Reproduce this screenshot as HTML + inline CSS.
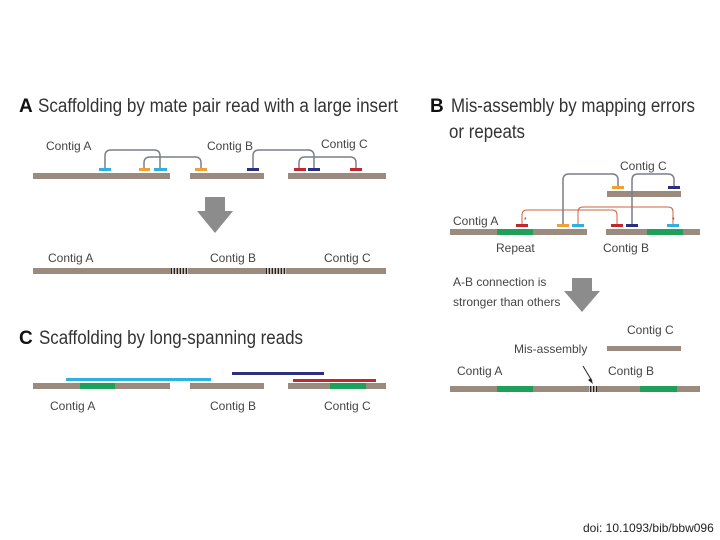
<!DOCTYPE html>
<html><head><meta charset="utf-8"><style>
html,body{margin:0;padding:0;background:#fff;width:720px;height:540px;overflow:hidden}
svg{display:block}
text{font-family:"Liberation Sans",sans-serif;fill:#444}
</style></head><body>
<svg width="720" height="540" viewBox="0 0 720 540" xmlns="http://www.w3.org/2000/svg">
<!-- Headings -->
<text x="19" y="112" font-size="19" font-weight="bold" style="fill:#111">A</text>
<text x="38" y="112" font-size="19" textLength="360" lengthAdjust="spacingAndGlyphs" style="fill:#333">Scaffolding by mate pair read with a large insert</text>
<text x="430" y="112" font-size="19" font-weight="bold" style="fill:#111">B</text>
<text x="451" y="112" font-size="19" textLength="244" lengthAdjust="spacingAndGlyphs" style="fill:#333">Mis-assembly by mapping errors</text>
<text x="449" y="138" font-size="19" textLength="76" lengthAdjust="spacingAndGlyphs" style="fill:#333">or repeats</text>
<text x="19" y="344" font-size="19" font-weight="bold" style="fill:#111">C</text>
<text x="39" y="344" font-size="19" textLength="264" lengthAdjust="spacingAndGlyphs" style="fill:#333">Scaffolding by long-spanning reads</text>
<text x="583" y="532" font-size="12" style="fill:#222">doi: 10.1093/bib/bbw096</text>

<g fill="#9b8a7e">
<rect x="33" y="173" width="137" height="6"/>
<rect x="190" y="173" width="74" height="6"/>
<rect x="288" y="173" width="98" height="6"/>
<rect x="33" y="268" width="353" height="6"/>
<rect x="33" y="383" width="137" height="6"/>
<rect x="190" y="383" width="74" height="6"/>
<rect x="288" y="383" width="98" height="6"/>
<rect x="607" y="191" width="74" height="6"/>
<rect x="450" y="229" width="137" height="6"/>
<rect x="606" y="229" width="94" height="6"/>
<rect x="607" y="346" width="74" height="5"/>
<rect x="450" y="386" width="250" height="6"/>
</g>
<g stroke="#fff" stroke-width="1">
<path d="M172 268v6M175 268v6M178 268v6M181 268v6M184 268v6M187 268v6"/>
<path d="M267 268v6M270 268v6M273 268v6M276 268v6M279 268v6M282 268v6M285 268v6"/>
<path d="M590 386v6M593 386v6M596 386v6"/>
</g>
<g stroke="#222" stroke-width="1">
<path d="M171.5 268v6M174.5 268v6M177.5 268v6M180.5 268v6M183.5 268v6M186.5 268v6"/>
<path d="M266.5 268v6M269.5 268v6M272.5 268v6M275.5 268v6M278.5 268v6M281.5 268v6M284.5 268v6"/>
<path d="M590.5 386v6M593.5 386v6M596.5 386v6"/>
</g>
<g fill="#1fa05a">
<rect x="80" y="383" width="35" height="6"/>
<rect x="330" y="383" width="36" height="6"/>
<rect x="497" y="229" width="36" height="6"/>
<rect x="647" y="229" width="36" height="6"/>
<rect x="497" y="386" width="36" height="6"/>
<rect x="640" y="386" width="37" height="6"/>
</g>

<g fill="none" stroke="#7a7f88" stroke-width="1.5">
<path d="M105 168V156q0-6 6-6h43q6 0 6 6v12"/>
<path d="M144 168v-5q0-6 6-6h45q6 0 6 6v5"/>
<path d="M253 168V156q0-6 6-6h49q6 0 6 6v12"/>
<path d="M299 168v-5q0-6 6-6h45q6 0 6 6v5"/>
<path d="M563 225V180q0-6 6-6h43q6 0 6 6v7"/>
<path d="M632 225V180q0-6 6-6h30q6 0 6 6v7"/>
</g>
<g fill="none" stroke="#d2603c" stroke-width="1">
<path d="M522 224v-9q0-5 5-5h85q5 0 5 5v9"/>
<path d="M578 224v-12q0-5 5-5h85q5 0 5 5v12"/>
</g>
<g>
<rect x="99" y="168" width="12" height="3" fill="#2fb0de"/>
<rect x="139" y="168" width="11" height="3" fill="#f0a030"/>
<rect x="154" y="168" width="13" height="3" fill="#2fb0de"/>
<rect x="195" y="168" width="12" height="3" fill="#f0a030"/>
<rect x="247" y="168" width="12" height="3" fill="#2c2f80"/>
<rect x="294" y="168" width="12" height="3" fill="#c0282c"/>
<rect x="308" y="168" width="12" height="3" fill="#2c2f80"/>
<rect x="350" y="168" width="12" height="3" fill="#c0282c"/>
<rect x="612" y="186" width="12" height="3" fill="#f0a030"/>
<rect x="668" y="186" width="12" height="3" fill="#2c2f80"/>
<rect x="516" y="224" width="12" height="3" fill="#c0282c"/>
<rect x="557" y="224" width="12" height="3" fill="#f0a030"/>
<rect x="572" y="224" width="12" height="3" fill="#2fb0de"/>
<rect x="611" y="224" width="12" height="3" fill="#c0282c"/>
<rect x="626" y="224" width="12" height="3" fill="#2c2f80"/>
<rect x="667" y="224" width="12" height="3" fill="#2fb0de"/>
<rect x="66" y="378" width="145" height="3" fill="#2fb0de"/>
<rect x="232" y="372" width="92" height="3" fill="#2c2f80"/>
<rect x="293" y="379" width="83" height="3" fill="#c0282c"/>
</g>
<text x="524" y="222" font-size="7">*</text>
<text x="672" y="222" font-size="7">*</text>

<path d="M205 197h20v14h8l-18 22l-18-22h8z" fill="#8c8c8c"/>
<path d="M572 278h20v13h8l-18 21l-18-21h8z" fill="#8c8c8c"/>
<path d="M583 366l9 15" stroke="#222" stroke-width="1"/>
<path d="M593 384l-5-4l3-2z" fill="#222"/>

<g font-size="12">
<text x="46" y="150">Contig A</text>
<text x="207" y="150">Contig B</text>
<text x="321" y="148">Contig C</text>
<text x="48" y="262">Contig A</text>
<text x="210" y="262">Contig B</text>
<text x="324" y="262">Contig C</text>
<text x="50" y="410">Contig A</text>
<text x="210" y="410">Contig B</text>
<text x="324" y="410">Contig C</text>
<text x="620" y="170">Contig C</text>
<text x="453" y="225">Contig A</text>
<text x="496" y="252">Repeat</text>
<text x="603" y="252">Contig B</text>
<text x="453" y="286" font-size="12">A-B connection is</text>
<text x="453" y="306" font-size="12">stronger than others</text>
<text x="627" y="334">Contig C</text>
<text x="514" y="353">Mis-assembly</text>
<text x="457" y="375">Contig A</text>
<text x="608" y="375">Contig B</text>
</g>
</svg>
</body></html>
